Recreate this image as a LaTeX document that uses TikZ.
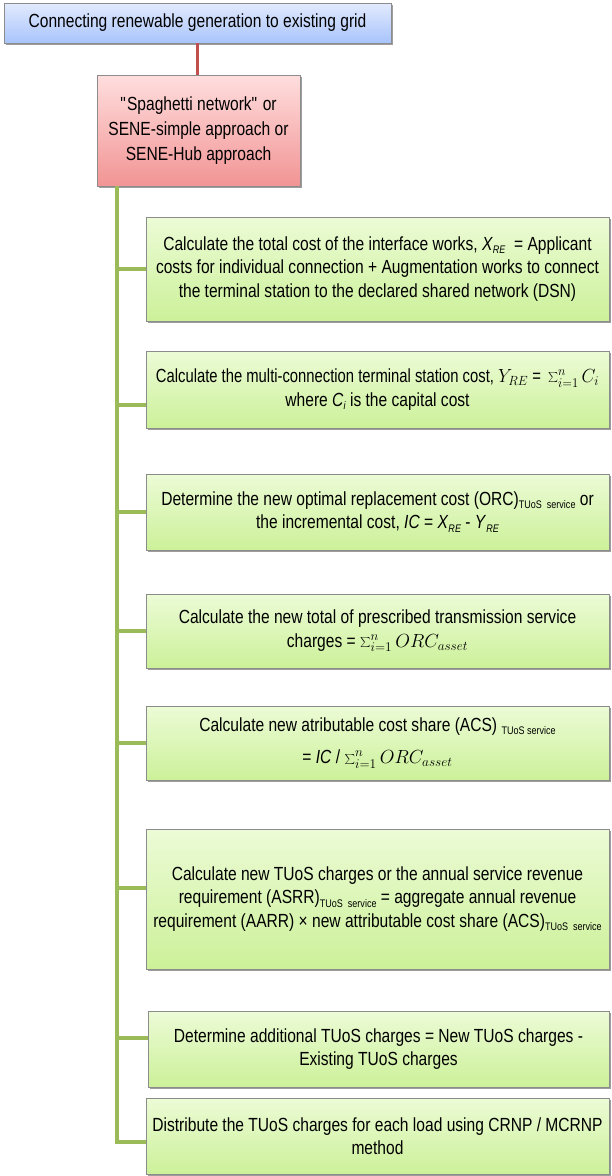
\RequirePackage{fix-cm}
\documentclass[tikz,border=0pt]{standalone}
\usepackage{graphicx}
\usepackage{fontspec}
\setmainfont{Liberation Sans}[FakeStretch=0.82]
\usetikzlibrary{shadows}
\newcommand{\tsub}[1]{\raisebox{-3.5pt}{\fontsize{11}{11}\selectfont #1}}
\newcommand{\sq}{\XeTeXglyph\XeTeXcharglyph"22\relax}
\definecolor{gline}{HTML}{9BBB59}
\definecolor{rline}{HTML}{C0504D}
\definecolor{bordergray}{HTML}{8C8C8C}
\tikzset{
  basebox/.style={draw=bordergray, line width=0.6pt, align=center, inner sep=0pt,
    font=\fontsize{19}{23.5}\selectfont,
    drop shadow={shadow xshift=1.6pt, shadow yshift=-2pt, fill=black!70, opacity=0.55}},
  bluebox/.style={basebox, top color={rgb,255:red,226;green,234;blue,253}, bottom color={rgb,255:red,168;green,196;blue,252}},
  pinkbox/.style={basebox, font=\fontsize{19}{25}\selectfont, top color={rgb,255:red,255;green,222;blue,222}, bottom color={rgb,255:red,242;green,148;blue,148}},
  greenbox/.style={basebox, top color={rgb,255:red,236;green,251;blue,214}, bottom color={rgb,255:red,204;green,241;blue,153},
    minimum width=463pt},
  gconn/.style={draw=gline, line width=4pt},
  rconn/.style={draw=rline, line width=3pt}
}
\begin{document}
\begin{tikzpicture}[x=1pt,y=-1pt]
\useasboundingbox (0,0) rectangle (611,1176);

\node[bluebox, minimum width=387pt, minimum height=40pt] (top) at (197.5,23)
  {Connecting renewable generation to existing grid};
\node[pinkbox, minimum width=203pt, minimum height=111pt] (pink) at (198.5,130.5)
  {\sq Spaghetti network\sq{} or\\ SENE-simple approach or\\ SENE-Hub approach};

\node[greenbox, minimum height=104pt] (b1) at (377.5,269)
  {Calculate the total cost of the interface works, \textit{X}\tsub{\textit{RE}}\ \ = Applicant\\
   costs for individual connection + Augmentation works to connect\\
   the terminal station to the declared shared network (DSN)};
\node[greenbox, minimum height=77pt] (b2) at (377.5,389.5)
  {\scalebox{0.95}[1]{Calculate the multi-connection terminal station cost, $Y_{RE}$ = \,$\sum_{i=1}^{n} C_i$}\\
   where \textit{C}\tsub{\textit{i}} is the capital cost};
\node[greenbox, minimum height=76pt] (b3) at (377.5,512)
  {Determine the new optimal replacement cost (ORC)\tsub{TUoS\ \ service} or\\
   the incremental cost, \textit{IC} = \textit{X}\tsub{\textit{RE}} - \textit{Y}\tsub{\textit{RE}}};
\node[greenbox, minimum height=74pt] (b4) at (377.5,631)
  {Calculate the new total of prescribed transmission service\\
   charges = $\sum_{i=1}^{n} ORC_{asset}$};
\node[greenbox, minimum height=74pt] (b5) at (377.5,743)
  {Calculate new atributable cost share (ACS) \tsub{TUoS service}\\[9pt]
   = \textit{IC} / $\sum_{i=1}^{n} ORC_{asset}$};
\node[greenbox, minimum height=140pt] (b6) at (377.5,899)
  {Calculate new TUoS charges or the annual service revenue\\
   requirement (ASRR)\tsub{TUoS\ \ service} = aggregate annual revenue\\
   requirement (AARR) × new attributable cost share (ACS)\tsub{TUoS\ \ service}};
\node[greenbox, minimum width=461pt, minimum height=76pt] (b7) at (378.5,1049)
  {Determine additional TUoS charges = New TUoS charges -\\
   Existing TUoS charges};
\node[greenbox, minimum height=76pt] (b8) at (377.5,1136)
  {Distribute the TUoS charges for each load using CRNP / MCRNP\\
   method};

\coordinate (trunktop) at ([xshift=20pt]pink.south west);

\draw[rconn] (top.south) -- (top.south |- pink.north);
\draw[gconn] (trunktop) |- ([yshift=-6pt]b8.west);
\draw[gconn] (b1.west) -- (b1.west -| trunktop);
\draw[gconn] ([yshift=-15pt]b2.west) -- ([yshift=-15pt]b2.west -| trunktop);
\draw[gconn] (b3.west) -- (b3.west -| trunktop);
\draw[gconn] (b4.west) -- (b4.west -| trunktop);
\draw[gconn] (b5.west) -- (b5.west -| trunktop);
\draw[gconn] ([yshift=11pt]b6.west) -- ([yshift=11pt]b6.west -| trunktop);
\draw[gconn] ([yshift=11pt]b7.west) -- ([yshift=11pt]b7.west -| trunktop);
\end{tikzpicture}
\end{document}
